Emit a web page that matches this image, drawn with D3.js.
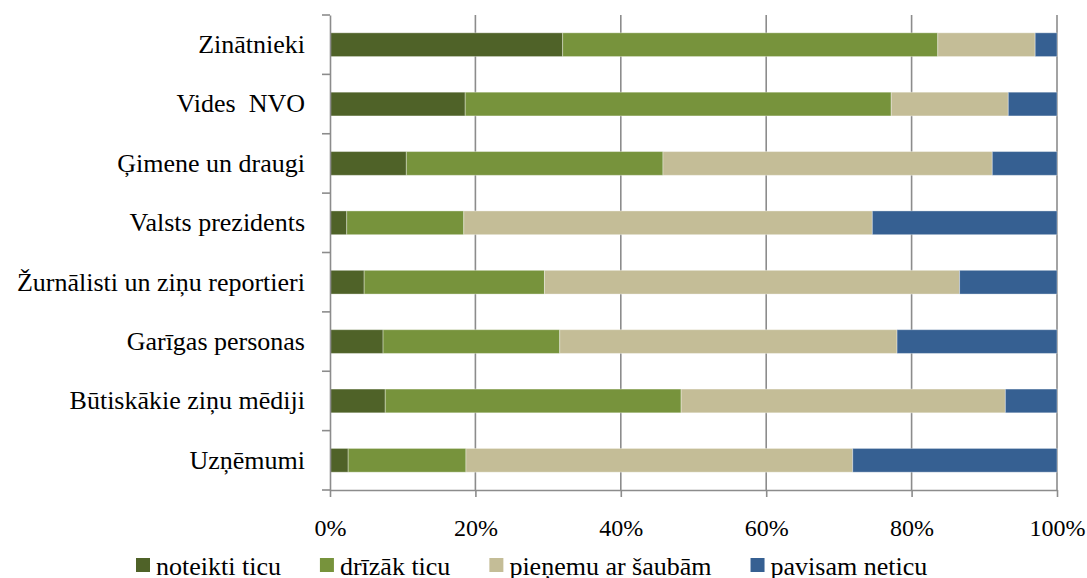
<!DOCTYPE html>
<html>
<head>
<meta charset="utf-8">
<script src="https://cdn.jsdelivr.net/npm/d3@7"></script>
<style>
  body { margin: 0; background: #fff; }
  svg { display: block; }
  text { font-family: "Liberation Serif", serif; fill: #000; }
</style>
</head>
<body>
<svg id="chart" width="1087" height="578"></svg>
<script>
const categories = ["Zinātnieki", "Vides  NVO", "Ģimene un draugi", "Valsts prezidents",
  "Žurnālisti un ziņu reportieri", "Garīgas personas", "Būtiskākie ziņu mēdiji", "Uzņēmumi"];
const seriesNames = ["noteikti ticu", "drīzāk ticu", "pieņemu ar šaubām", "pavisam neticu"];
const noteikti = [32.0, 18.6, 10.5, 2.3, 4.7, 7.3, 7.6, 2.5];
const drizak   = [51.6, 58.6, 35.3, 16.1, 24.8, 24.3, 40.7, 16.2];
const pienemu  = [13.4, 16.1, 45.3, 56.2, 57.1, 46.4, 44.6, 53.2];
const pavisam  = [3.0, 6.7, 8.9, 25.4, 13.4, 22.0, 7.1, 28.1];
const tickValues = [0, 20, 40, 60, 80, 100];
const colors = ["#4f6228", "#77933c", "#c4bd97", "#366092"];

const FONT = '"Liberation Serif", "Times New Roman", serif';
const svg = d3.select("#chart");
const margin = { left: 330, right: 30, top: 15, bottom: 88 };
const W = 1087, H = 578;

const x = d3.scaleLinear().domain([0, 100]).range([margin.left, W - margin.right]);
const y = d3.scaleBand().domain(categories).range([margin.top, H - margin.bottom]).paddingInner(0.6).paddingOuter(0.3);

const rows = categories.map((c, i) => ({
  cat: c,
  [seriesNames[0]]: noteikti[i],
  [seriesNames[1]]: drizak[i],
  [seriesNames[2]]: pienemu[i],
  [seriesNames[3]]: pavisam[i]
}));
const stacked = d3.stack().keys(seriesNames)(rows);

// gridlines
svg.append("g").selectAll("line").data(tickValues.slice(1)).join("line")
  .attr("x1", d => x(d)).attr("x2", d => x(d))
  .attr("y1", margin.top).attr("y2", H - margin.bottom)
  .attr("stroke", "#8c8c8c").attr("stroke-width", 1.6);

// bars
svg.append("g").selectAll("g").data(stacked).join("g")
  .attr("fill", (d, i) => colors[i])
  .selectAll("rect").data(d => d).join("rect")
  .attr("x", d => x(d[0]))
  .attr("width", d => x(d[1]) - x(d[0]))
  .attr("y", d => y(d.data.cat))
  .attr("height", y.bandwidth())
  .attr("stroke", "rgba(255,255,255,0.35)")
  .attr("stroke-width", 1);

// x axis
const xAxis = svg.append("g")
  .attr("transform", `translate(0,${H - margin.bottom})`)
  .call(d3.axisBottom(x).tickValues(tickValues).tickFormat(d => d + "%").tickSizeInner(7).tickSizeOuter(0).tickPadding(22));
xAxis.attr("font-family", FONT);
xAxis.select(".domain").attr("stroke", "#8c8c8c").attr("stroke-width", 1.6);
xAxis.selectAll(".tick line").attr("stroke", "#8c8c8c").attr("stroke-width", 1.6);
xAxis.selectAll(".tick text").style("font-size", "24px").attr("fill", "#000").style("font-family", FONT);

// y axis
const yAxis = svg.append("g")
  .attr("transform", `translate(${margin.left},0)`)
  .call(d3.axisLeft(y).tickSize(0).tickPadding(25));
yAxis.attr("font-family", FONT);
yAxis.select(".domain").attr("stroke", "#8c8c8c").attr("stroke-width", 1.6);
yAxis.selectAll(".tick text").style("font-size", "26px").attr("fill", "#000")
  .style("font-family", FONT).style("white-space", "pre");
const step = (y.range()[1] - y.range()[0]) / categories.length;
yAxis.append("g").selectAll("line").data(d3.range(categories.length + 1)).join("line")
  .attr("x1", -8).attr("x2", 0)
  .attr("y1", i => y.range()[0] + i * step).attr("y2", i => y.range()[0] + i * step)
  .attr("stroke", "#8c8c8c").attr("stroke-width", 1.6);

// legend
const legend = svg.append("g");
let lx = 136;
seriesNames.forEach((name, i) => {
  legend.append("rect").attr("x", lx).attr("y", 558).attr("width", 14).attr("height", 14).attr("fill", colors[i]);
  const t = legend.append("text").attr("x", lx + 20).attr("y", 575)
    .style("font-size", "26px").style("font-family", FONT).text(name);
  lx = lx + 20 + t.node().getComputedTextLength() + 39;
});
</script>
</body>
</html>
